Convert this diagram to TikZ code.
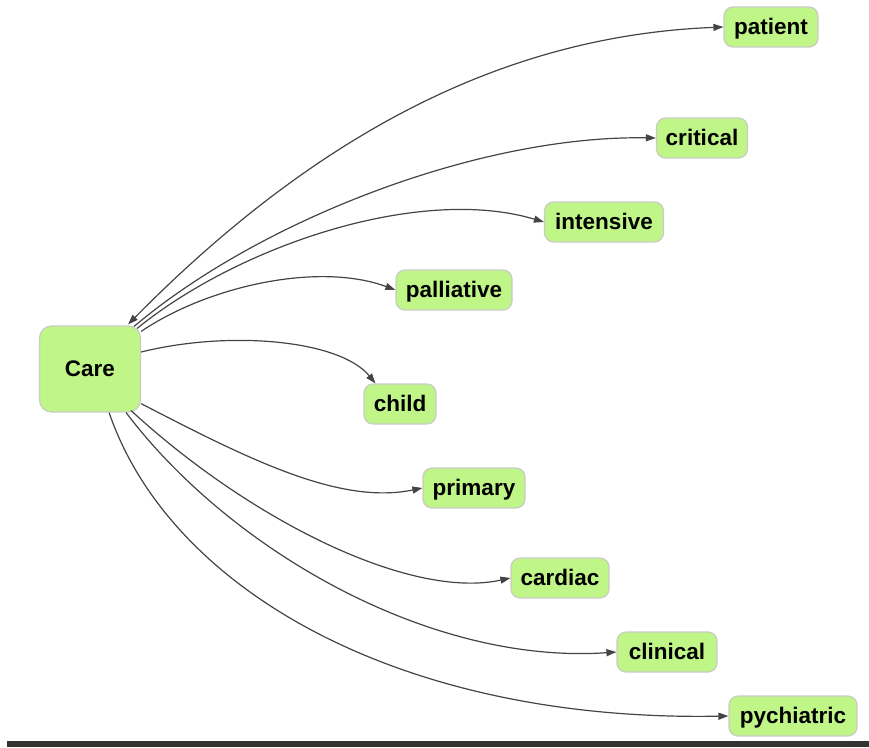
\documentclass[tikz,border=0pt]{standalone}
\usepackage{fontspec}
\setmainfont{Liberation Sans}
\usetikzlibrary{arrows.meta}
\definecolor{nodegreen}{RGB}{192,245,135}
\definecolor{nodeborder}{RGB}{200,205,195}
\definecolor{edgegray}{RGB}{68,68,68}
\begin{document}
\begin{tikzpicture}[x=1pt,y=-1pt,
  word/.style={draw=nodeborder,line width=1.2pt,fill=nodegreen,rounded corners=9pt,
    font=\fontsize{22.5}{24}\selectfont\bfseries,minimum height=40pt,inner xsep=6pt,inner ysep=0pt,
    text height=15.5pt,text depth=0pt},
  hub/.style={word,minimum width=101pt,minimum height=86pt,rounded corners=12pt},
  link/.style={draw=edgegray,line width=1.2pt,-{Triangle[length=10pt,width=7pt]}},
  duallink/.style={link,{Triangle[length=10pt,width=7pt]}-{Triangle[length=10pt,width=7pt]}}]
\useasboundingbox (0,0) rectangle (869,747);
\fill[black!80] (7,741) rectangle (869,747);
\node[hub] (care) at (90,369) {Care};
\node[word,minimum width=94pt] (patient) at (771,27) {patient};
\node[word,minimum width=91pt] (critical) at (702,138) {critical};
\node[word,minimum width=119pt] (intensive) at (604,222) {intensive};
\node[word,minimum width=116pt] (palliative) at (454,290) {palliative};
\node[word,minimum width=72pt] (child) at (400,404) {child};
\node[word,minimum width=102pt] (primary) at (474,488) {primary};
\node[word,minimum width=98pt] (cardiac) at (560,578) {cardiac};
\node[word,minimum width=100pt] (clinical) at (667,652) {clinical};
\node[word,minimum width=128pt] (pychiatric) at (793,716) {pychiatric};
\draw[duallink] (care.north east) ++(-13,-1) .. controls (330,120) and (520,35) .. (patient.west);
\draw[link] (care.north east) ++(-7,1) .. controls (260,220) and (480,135) .. (critical.west);
\draw[link] (care.north east) ++(-4,3) .. controls (240,245) and (420,185) .. (intensive.west);
\draw[link] (care.north east) ++(0,6) .. controls (210,285) and (320,262) .. (palliative.west);
\draw[link] (care.east) ++(0,-17) .. controls (230,330) and (340,340) .. (child.140);
\draw[link] (care.south east) ++(0,-9) .. controls (250,460) and (340,505) .. (primary.west);
\draw[link] (care.south east) ++(-10,-2) .. controls (250,520) and (410,600) .. (cardiac.west);
\draw[link] (care.south east) ++(-15,0) .. controls (230,550) and (430,665) .. (clinical.west);
\draw[link] (care.south east) ++(-32,0) .. controls (170,590) and (400,722) .. (pychiatric.west);
\end{tikzpicture}
\end{document}
